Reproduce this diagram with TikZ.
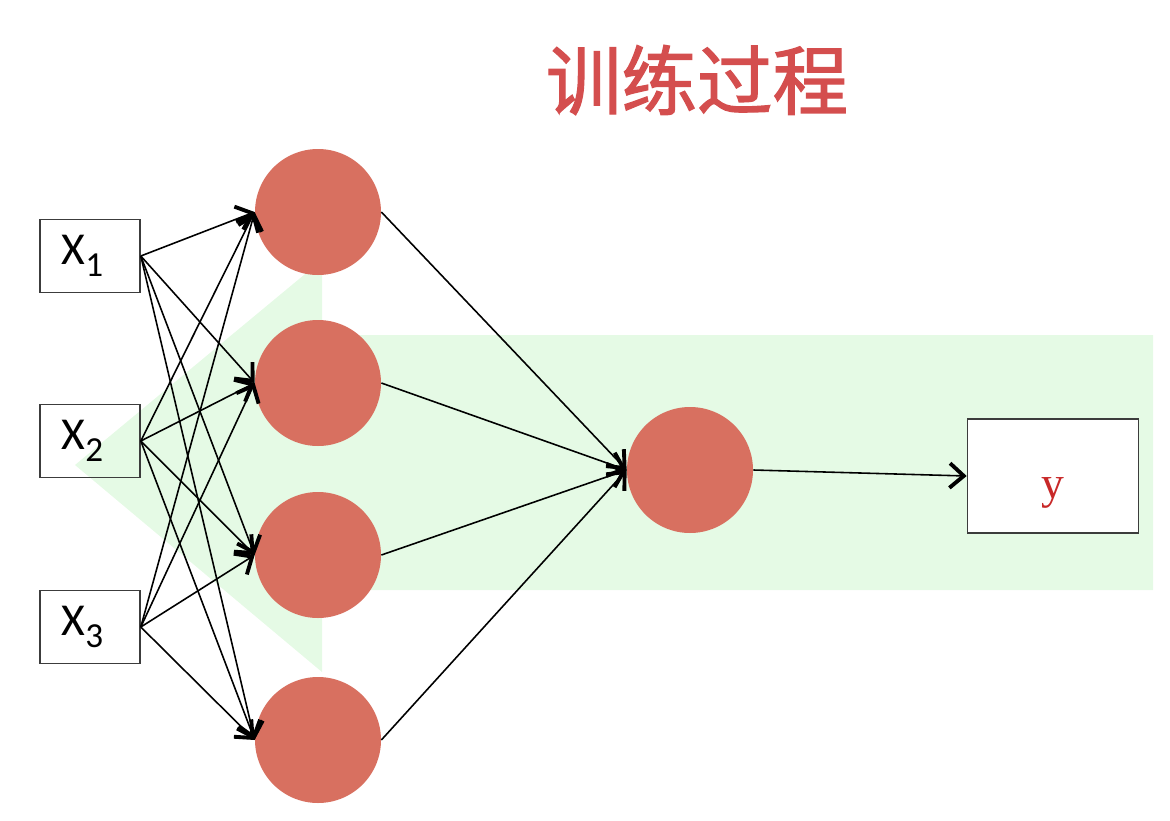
\documentclass[tikz,border=0pt]{standalone}
\usepackage{fontspec}
\setmainfont{Carlito}
\newfontfamily\cjk[FakeBold=1.6]{Noto Sans CJK SC}
\newfontfamily\outfont{Liberation Serif}
\usetikzlibrary{arrows.meta,positioning}
\definecolor{mytitle}{RGB}{212,78,78}
\definecolor{mycoral}{RGB}{216,112,96}
\definecolor{mygreen}{RGB}{229,250,229}
\definecolor{myframe}{RGB}{60,60,60}
\definecolor{myyred}{RGB}{200,40,40}

\begin{document}
\begin{tikzpicture}[
    >={Straight Barb[length=8pt,width=14pt,line width=2.2pt]},
    inbox/.style={draw=myframe,line width=0.9pt,
      minimum width=2cm,minimum height=1.46cm,
      font=\fontsize{26}{28}\selectfont},
    neuron/.style={circle,fill=mycoral,minimum size=2.52cm,inner sep=0pt},
    link/.style={->,line width=0.9pt,black}]
  \useasboundingbox (0,0) rectangle (23.4,-16.42);

  % light green arrow in the background
  \fill[mygreen] (1.5,-9.3) -- (6.44,-5.2) -- (6.44,-6.7) -- (23.06,-6.7)
    -- (23.06,-11.8) -- (6.44,-11.8) -- (6.44,-13.44) -- cycle;

  \node[font=\cjk\fontsize{43}{43}\selectfont,text=mytitle]
    (title) at (13.94,-1.6){训练过程};

  \foreach \y/\i in {-5.12/1,-8.82/2,-12.54/3}{
    \node[inbox] (x\i) at (1.8,\y)
      {X\raisebox{-6.8pt}{\fontsize{20}{20}\selectfont\i}\hspace*{0.3cm}};
  }
  \foreach \y/\j in {-4.24/1,-7.66/2,-11.1/3,-14.8/4}{
    \node[neuron] (h\j) at (6.36,\y){};
  }
  \node[neuron] (out) at (13.8,-9.4){};
  \node[draw=myframe,fill=white,line width=0.9pt,minimum width=3.42cm,
        minimum height=2.28cm,text height=1.1cm,text=myyred,
        font=\outfont\fontsize{26}{26}\selectfont] (y) at (21.06,-9.52){y};

  \foreach \i in {1,2,3}{
    \foreach \j in {1,2,3,4}{
      \draw[link] (x\i.east) -- (h\j.west);
    }
  }
  \foreach \j in {1,2,3,4}{
    \draw[link] (h\j.east) -- (out.west);
  }
  \draw[link] (out.east) -- (y.west);
\end{tikzpicture}
\end{document}
